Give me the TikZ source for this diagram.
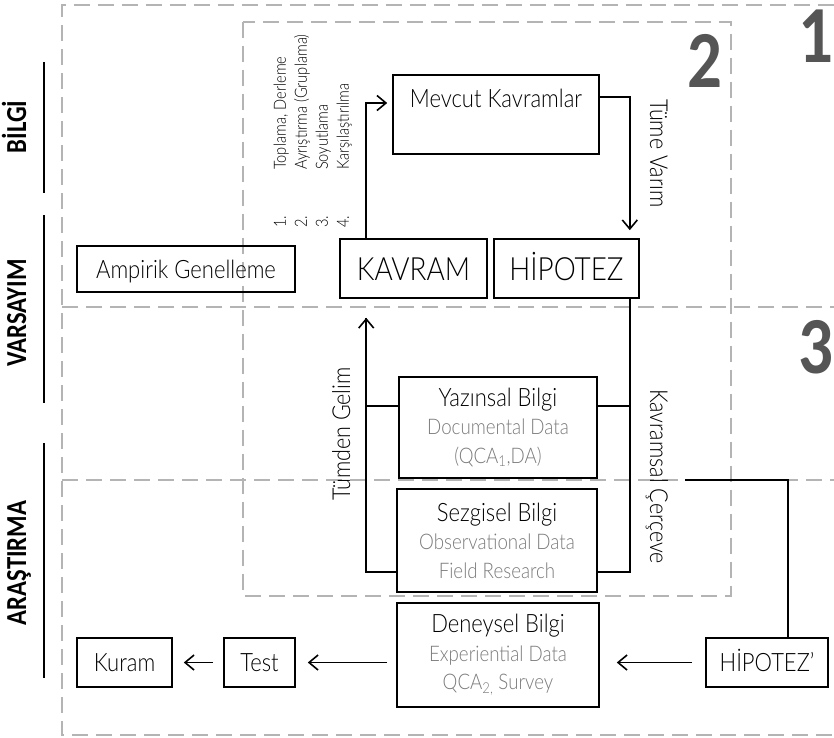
\documentclass[tikz,border=0pt]{standalone}
\usepackage{fontspec}
\setmainfont{Lato Light}[FakeStretch=0.87]
\newfontfamily\carl{Carlito}[FakeStretch=0.85]
\usetikzlibrary{arrows.meta,calc}
\definecolor{dashgray}{HTML}{B4B4B4}
\definecolor{numgray}{HTML}{555555}
\definecolor{txtgray}{HTML}{7A7A7A}
\begin{document}
\begin{tikzpicture}[x=1pt,y=-1pt,
  dashline/.style={draw=dashgray, line width=1.8pt, dash pattern=on 16pt off 8pt},
  box/.style={draw, line width=1.6pt, inner sep=0pt, font=\fontsize{25.3}{26}\selectfont, text height=18pt, text depth=0pt},
  bigbox/.style={box, font=\fontsize{32}{34}\selectfont, text height=23pt},
  infobox/.style={draw, line width=1.6pt, inner sep=0pt, align=center, text=txtgray, font=\fontsize{21.5}{28.5}\selectfont},
  conn/.style={line width=1.6pt},
  arr/.style={conn, -{Straight Barb[length=9pt,width=15pt]}},
  side/.style={rotate=90, anchor=base, font=\carl\bfseries\fontsize{29}{30}\selectfont},
  bignum/.style={anchor=base, text=numgray, font=\carl\bfseries\fontsize{81}{81}\selectfont},
  flowlabel/.style={anchor=base, font=\fontsize{24.7}{26}\selectfont},
]
\useasboundingbox (0,0) rectangle (834,737);
% dashed frames
\draw[dashline] (834,5) -- (62,5) -- (62,735) -- (834,735);
\draw[dashline] (62,307) -- (834,307);
\draw[dashline] (62,480) -- (834,480);
\draw[dashline] (243,22) rectangle (731,596);

% side labels
\node[side] (bilgi) at (26,127) {BİLGİ};
\node[side] (varsayim) at (26,313) {VARSAYIM};
\node[side] (arastirma) at (26,563) {ARAŞTIRMA};
\draw[line width=1.6pt] (44,62) -- (44,193);
\draw[line width=1.6pt] (44,215) -- (44,403);
\draw[line width=1.6pt] (44,443) -- (44,678);

% big numbers
\node[bignum] (n1) at (816,62) {1};
\node[bignum] (n2) at (704.5,87) {2};
\node[bignum] (n3) at (816,373) {3};

% boxes
\node[box, minimum width=218pt, minimum height=46pt] (ampirik) at (186,269) {Ampirik Genelleme};
\node[draw, line width=1.6pt, minimum width=206pt, minimum height=79pt,
  label={[anchor=base, yshift=-33pt, font=\fontsize{25.3}{26}\selectfont]north:Mevcut Kavramlar}] (mevcut) at (496,114.5) {};
\node[bigbox, minimum width=147pt, minimum height=59pt] (kavram) at (413.5,268.5) {KAVRAM};
\node[bigbox, minimum width=145pt, minimum height=59pt] (hipotez) at (566.5,268.5) {HİPOTEZ};
\node[infobox, minimum width=198pt, minimum height=101pt] (yazinsal) at (498,427.5)
  {\textcolor{black}{\fontsize{25.3}{28.5}\selectfont Yazınsal Bilgi}\\Documental Data\\(QCA\textsubscript{1},DA)};
\node[infobox, minimum width=200pt, minimum height=103pt] (sezgisel) at (497,540.5)
  {\textcolor{black}{\fontsize{25.3}{28.5}\selectfont Sezgisel Bilgi}\\Observational Data\\Field Research};
\node[infobox, minimum width=202pt, minimum height=104pt] (deneysel) at (498,655)
  {\textcolor{black}{\fontsize{25.3}{28.5}\selectfont Deneysel Bilgi}\\Experiential Data\\QCA\textsubscript{2,} Survey};
\node[box, minimum width=95pt, minimum height=49pt] (kuram) at (124.5,662.5) {Kuram};
\node[box, minimum width=71pt, minimum height=49pt] (test) at (259.5,662.5) {Test};
\node[box, minimum width=122pt, minimum height=49pt] (hipotez2) at (767,662.5) {HİPOTEZ’};

% step list
\node[rotate=90, anchor=north west, inner sep=0pt, font=\fontsize{16.8}{21}\selectfont] (steps) at (271,228)
  {\begin{tabular}{@{}l@{}}
   \makebox[58pt][l]{1.}Toplama, Derleme\\
   \makebox[58pt][l]{2.}Ayrıştırma (Gruplama)\\
   \makebox[58pt][l]{3.}Soyutlama\\
   \makebox[58pt][l]{4.}Karşılaştırılma
   \end{tabular}};

% connectors
\draw[arr, shorten >=5pt] ($(kavram.north west)+(27,0)$) |- ($(mevcut.west)+(0,-11.5)$);
\draw[arr, shorten >=8pt] ($(mevcut.east)+(0,-17.5)$) -| ($(hipotez.north east)+(-10,0)$);
\draw[conn] ($(yazinsal.east)+(0,-21.5)$) -| ($(hipotez.south east)+(-10,0)$);
\draw[conn] ($(sezgisel.east)+(0,31.5)$) -| ($(hipotez.south east)+(-10,0)$);
\draw[conn, shorten >=19pt] ($(yazinsal.west)+(0,-21.5)$) -| ($(kavram.south west)+(27,0)$);
\draw[arr, shorten >=19pt] ($(sezgisel.west)+(0,31.5)$) -| ($(kavram.south west)+(27,0)$);
\coordinate (kcend) at (685,480);
\draw[conn] (kcend) -| ($(hipotez2.north)+(21,0)$);
\draw[arr, shorten <=13pt, shorten >=17pt] (hipotez2.west) -- (hipotez2.west -| deneysel.east);
\draw[arr, shorten <=9pt, shorten >=12pt] (deneysel.west |- test.east) -- (test.east);
\draw[arr, shorten <=10pt, shorten >=11pt] (test.west) -- (kuram.east);

% flow labels
\node[flowlabel, rotate=-90] (tume) at (650,153.5) {Tüme Varım};
\node[flowlabel, rotate=-90] (kcerceve) at (650,476.5) {Kavramsal Çerçeve};
\node[flowlabel, rotate=90] (tumden) at (350,434) {Tümden Gelim};
\end{tikzpicture}
\end{document}
